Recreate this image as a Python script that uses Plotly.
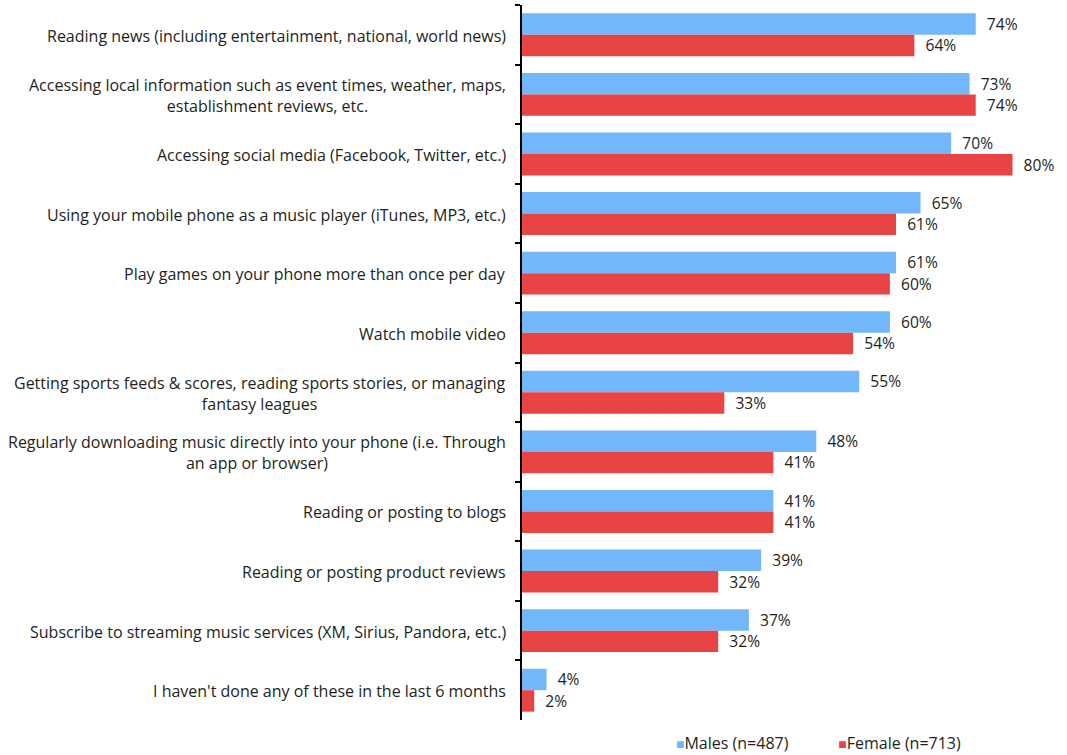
import plotly.graph_objects as go

categories = [
    "Reading news (including entertainment, national, world news)",
    "Accessing local information such as event times, weather, maps,<br>establishment reviews, etc.",
    "Accessing social media (Facebook, Twitter, etc.)",
    "Using your mobile phone as a music player (iTunes, MP3, etc.)",
    "Play games on your phone more than once per day",
    "Watch mobile video",
    "Getting sports feeds & scores, reading sports stories, or managing<br>fantasy leagues",
    "Regularly downloading music directly into your phone (i.e. Through<br>an app or browser)",
    "Reading or posting to blogs",
    "Reading or posting product reviews",
    "Subscribe to streaming music services (XM, Sirius, Pandora, etc.)",
    "I haven't done any of these in the last 6 months",
]
males = [74, 73, 70, 65, 61, 60, 55, 48, 41, 39, 37, 4]
female = [64, 74, 80, 61, 60, 54, 33, 41, 41, 32, 32, 2]
series_names = ["Males (n=487)", "Female (n=713)"]

BLUE = "#72b7fc"
RED = "#e84443"
TEXT = "#231f20"
FONT = "Open Sans"
SIZE = 16

fig = go.Figure()
for name, vals, color in [(series_names[0], males, BLUE), (series_names[1], female, RED)]:
    fig.add_trace(go.Bar(
        y=categories, x=vals, name=name, orientation="h",
        marker=dict(color=color, line=dict(width=0)),
        text=vals, texttemplate="\u00a0\u00a0%{x}%", textposition="outside",
        textfont=dict(family=FONT, size=SIZE, color=TEXT),
        cliponaxis=False, showlegend=False,
    ))

# category labels, centred multi-line blocks right-aligned against the axis
for cat in categories:
    fig.add_annotation(
        x=0, xref="paper", y=cat, yref="y", text=cat,
        xanchor="right", xshift=-14, yshift=-1, align="center", showarrow=False,
        font=dict(family=FONT, size=SIZE, color=TEXT),
    )

# legend row
gap = "\u00a0" * 12
fig.add_annotation(
    x=0.2905, xref="paper", y=-0.012, yref="paper", yanchor="top", xanchor="left",
    yshift=-1, showarrow=False, align="left",
    text=(f"<span style='color:{BLUE};font-size:14px'>■</span>{series_names[0]}"
          f"{gap}"
          f"<span style='color:{RED};font-size:14px'>■</span>{series_names[1]}"),
    font=dict(family=FONT, size=SIZE, color=TEXT),
)

fig.update_layout(
    width=1067, height=755,
    margin=dict(l=522, r=22, t=5, b=35),
    barmode="group", bargap=0.28, bargroupgap=0.0,
    plot_bgcolor="white", paper_bgcolor="white",
    xaxis=dict(range=[0, 85.3], visible=False, fixedrange=True),
    yaxis=dict(
        autorange="reversed", showticklabels=False,
        showline=True, linecolor="black", linewidth=1.5,
        ticks="outside", tickson="boundaries", ticklen=5, tickwidth=1.5, tickcolor="black",
        showgrid=False, zeroline=False,
    ),
)

fig.write_html("out.html")
